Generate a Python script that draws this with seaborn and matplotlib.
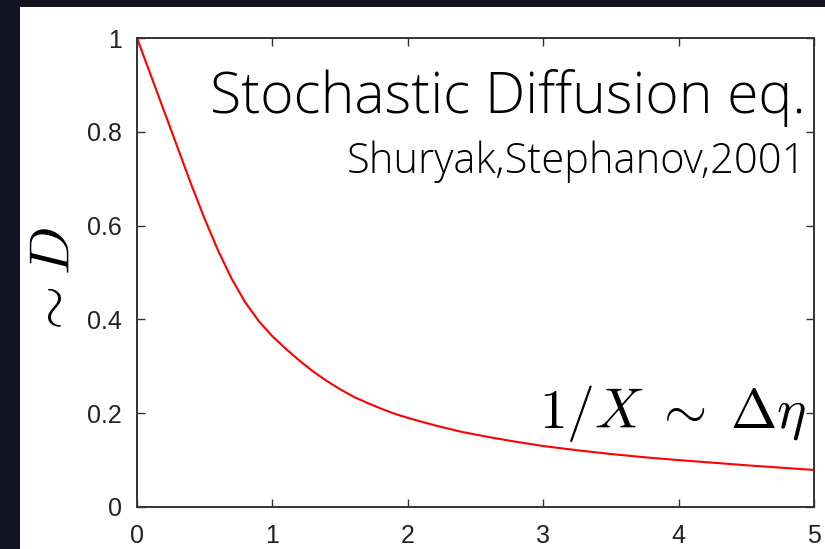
import matplotlib
matplotlib.use("Agg")
import matplotlib.pyplot as plt
from matplotlib.patches import Rectangle
import seaborn as sns
import pandas as pd

# Relaxation curve sampled along the horizontal axis
x_vals = [0.0, 0.1, 0.2, 0.3, 0.4, 0.5, 0.6, 0.7, 0.8, 0.9,
          1.0, 1.1, 1.2, 1.3, 1.4, 1.5, 1.6, 1.7, 1.8, 1.9,
          2.0, 2.2, 2.4, 2.6, 2.8, 3.0, 3.25, 3.5, 3.75, 4.0, 4.5, 5.0]
d_vals = [1.0, 0.922, 0.844, 0.766, 0.688, 0.614, 0.546, 0.486, 0.436, 0.396,
          0.364, 0.337, 0.312, 0.289, 0.269, 0.251, 0.235, 0.222, 0.210, 0.199,
          0.190, 0.174, 0.160, 0.149, 0.139, 0.130, 0.121, 0.113, 0.106, 0.100, 0.089, 0.079]

x_ticks = [0, 1, 2, 3, 4, 5]
y_ticks = [0, 0.2, 0.4, 0.6, 0.8, 1]
y_tick_labels = ["0", "0.2", "0.4", "0.6", "0.8", "1"]

title_text = "Stochastic Diffusion eq."
credit_text = "Shuryak,Stephanov,2001"
x_note = r"$1/X \;\sim\; \Delta\eta$"
y_label = r"$\sim D$"

df = pd.DataFrame({"x": x_vals, "D": d_vals})

sns.set_style("ticks")
plt.rcParams["mathtext.fontset"] = "cm"
plt.rcParams["font.family"] = ["Liberation Sans", "DejaVu Sans"]

W, H = 825, 549
fig = plt.figure(figsize=(W / 100, H / 100), dpi=100)
fig.patch.set_facecolor("#121220")
# white slide panel behind the plot
fig.patches.append(Rectangle((20 / W, 0), 1 - 20 / W, (H - 7) / H,
                             transform=fig.transFigure, facecolor="white",
                             edgecolor="none", zorder=-10))

ax = fig.add_axes([137 / W, (H - 507) / H, (814 - 137) / W, (507 - 38) / H])
ax.set_zorder(1)
ax.set_facecolor("white")

sns.lineplot(data=df, x="x", y="D", ax=ax, color="#ff0000", linewidth=1.5)

ax.set_xlim(0, 5)
ax.set_ylim(0, 1)
ax.set_xticks(x_ticks)
ax.set_xticklabels([str(t) for t in x_ticks])
ax.set_yticks(y_ticks)
ax.set_yticklabels(y_tick_labels)
ax.set_xlabel("")
ax.set_ylabel("")

for s in ax.spines.values():
    s.set_visible(True)
    s.set_color("#333333")
    s.set_linewidth(1.4)

ax.tick_params(direction="in", length=5.5, width=1.0, color="#333333",
               top=True, right=True, labelsize=18, labelcolor="#222222")
ax.tick_params(axis="y", pad=11)
ax.tick_params(axis="x", pad=12)

ax.text(0.988, 0.840, title_text, transform=ax.transAxes, ha="right", va="baseline",
        fontsize=41, family=["Open Sans", "DejaVu Sans"], fontweight="light", color="black")
ax.text(0.988, 0.712, credit_text, transform=ax.transAxes, ha="right", va="baseline",
        fontsize=30, family=["Open Sans", "DejaVu Sans"], fontweight="light", color="black")
ax.text(0.988, 0.168, x_note, transform=ax.transAxes, ha="right", va="baseline",
        fontsize=40, color="black")

fig.text(55 / W, (H - 283) / H, y_label, rotation=90, ha="center", va="center",
         fontsize=41, color="black")

fig.savefig("out.png", dpi=100, facecolor=fig.get_facecolor())
